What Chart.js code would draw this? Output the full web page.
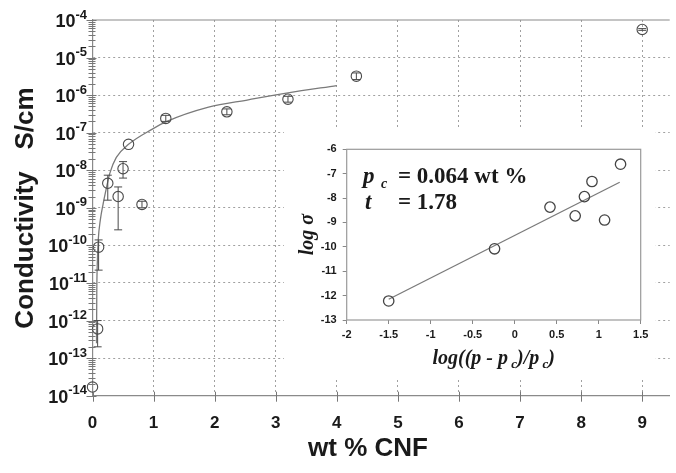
<!DOCTYPE html>
<html>
<head>
<meta charset="utf-8">
<script src="https://cdn.jsdelivr.net/npm/chart.js@4.4.0/dist/chart.umd.min.js"></script>
<style>
  body { margin: 0; background: #fff; }
  #wrap { position: relative; width: 676px; height: 473px; }
  #mainChart { position: absolute; left: 0; top: 0; }
  #insetChart { position: absolute; left: 284px; top: 128px; background: #fff; }
</style>
</head>
<body>
<div id="wrap">
  <canvas id="mainChart" width="676" height="473"></canvas>
  <canvas id="insetChart" width="371" height="250"></canvas>
</div>
<script>
// main plot: conductivity vs filler loading
const wtCNF        = [0, 0.084, 0.1, 0.25, 0.42, 0.5, 0.59, 0.81, 1.2, 2.2, 3.2, 4.32, 9.0];
const conductivity = [1.7e-14, 6e-13, 9e-11, 4.5e-9, 2e-9, 1.1e-8, 4.9e-8, 1.23e-9, 2.4e-7, 3.6e-7, 7.8e-7, 3.2e-6, 5.6e-5];
const errLow       = [null, 2e-13, 2.2e-11, 1.6e-9, 2.6e-10, 6.2e-9, null, 1.0e-9, 2.0e-7, 3.0e-7, 6.5e-7, 2.6e-6, 5.3e-5];
const errHigh      = [null, 1e-12, 1.4e-10, 7.4e-9, 3.6e-9, 1.7e-8, null, 1.5e-9, 2.9e-7, 4.3e-7, 9.3e-7, 3.9e-6, 5.9e-5];

// fitted curve
const fitCurveX = [0.066, 0.07, 0.08, 0.094, 0.13, 0.175, 0.23, 0.283, 0.39, 0.59, 0.98, 1.2, 1.9, 2.55, 3.2, 4.0];
const fitCurveY = [2.5e-13, 5e-12, 4e-11, 1.4e-10, 5e-10, 1.3e-9, 3.5e-9, 8.3e-9, 2.2e-8, 4.9e-8, 1.25e-7, 1.95e-7, 4.8e-7, 7.5e-7, 1.15e-6, 1.8e-6];

const xTicks = [0, 1, 2, 3, 4, 5, 6, 7, 8, 9];
const yDecades = [-14, -13, -12, -11, -10, -9, -8, -7, -6, -5, -4];

// inset: log-log percolation plot
const insetX = [-1.5, -0.24, 0.42, 0.72, 0.83, 0.92, 1.07, 1.26];
const insetY = [-12.22, -10.08, -8.37, -8.73, -7.94, -7.32, -8.9, -6.61];
const insetFitX = [-1.5, 1.25];
const insetFitY = [-12.15, -7.35];

const TEXT = '#1a1a1a';
const SANS = '"Liberation Sans", Arial, sans-serif';
const SERIF = '"Liberation Serif", "Times New Roman", serif';

const mainDecor = {
    id: 'mainDecor',
    afterDatasetsDraw(chart) {
        const { ctx, scales: { x, y } } = chart;
        ctx.save();
        // error bars
        ctx.strokeStyle = '#4a4a4a';
        ctx.lineWidth = 1;
        wtCNF.forEach((v, i) => {
            if (errLow[i] == null) return;
            const px = x.getPixelForValue(v);
            const lo = y.getPixelForValue(errLow[i]);
            const hi = y.getPixelForValue(errHigh[i]);
            ctx.beginPath();
            ctx.moveTo(px, lo); ctx.lineTo(px, hi);
            ctx.moveTo(px - 4, lo); ctx.lineTo(px + 4, lo);
            ctx.moveTo(px - 4, hi); ctx.lineTo(px + 4, hi);
            ctx.stroke();
        });
        ctx.restore();
    },
    afterDraw(chart) {
        const { ctx, chartArea, scales: { x, y } } = chart;
        const x0 = chartArea.left;
        ctx.save();
        // top frame line
        ctx.strokeStyle = '#8a8a8a';
        ctx.lineWidth = 1.2;
        ctx.beginPath();
        ctx.moveTo(x0, chartArea.top);
        ctx.lineTo(chartArea.right, chartArea.top);
        ctx.stroke();

        // ladder ticks on the log axis
        ctx.strokeStyle = '#777';
        ctx.lineWidth = 1;
        ctx.beginPath();
        yDecades.forEach(e => {
            for (let m = 1; m <= 9; m++) {
                if (e === -4 && m > 1) break;
                const py = Math.round(y.getPixelForValue(m * Math.pow(10, e))) + 0.5;
                ctx.moveTo(x0 - (m === 1 ? 6 : 4), py);
                ctx.lineTo(x0 + (m === 1 ? 4 : 3), py);
            }
        });
        // x ticks crossing the axis
        xTicks.forEach(v => {
            const px = Math.round(x.getPixelForValue(v)) + 0.5;
            ctx.moveTo(px, chartArea.bottom - 4);
            ctx.lineTo(px, chartArea.bottom + 6);
        });
        ctx.stroke();

        // y tick labels 10^n
        ctx.fillStyle = TEXT;
        ctx.textBaseline = 'middle';
        yDecades.forEach(e => {
            const py = y.getPixelForValue(Math.pow(10, e));
            ctx.font = 'bold 13px ' + SANS;
            ctx.textAlign = 'right';
            const sup = String(e);
            ctx.fillText(sup, 87, py - 5);
            const w = ctx.measureText(sup).width;
            ctx.font = 'bold 18px ' + SANS;
            ctx.fillText('10', 87 - w, py + 2);
        });

        // axis titles
        ctx.font = 'bold 26px ' + SANS;
        ctx.textAlign = 'center';
        ctx.fillText('wt % CNF', 368, 449);
        ctx.translate(26, 208);
        ctx.rotate(-Math.PI / 2);
        ctx.fillText('Conductivity   S/cm', 0, 0);
        ctx.restore();
    }
};

new Chart(document.getElementById('mainChart'), {
    type: 'scatter',
    data: {
        datasets: [
            {
                type: 'line',
                data: fitCurveX.map((v, i) => ({ x: v, y: fitCurveY[i] })),
                borderColor: '#7a7a7a',
                borderWidth: 1.3,
                pointRadius: 0,
                cubicInterpolationMode: 'monotone',
                fill: false,
                order: 2
            },
            {
                data: wtCNF.map((v, i) => ({ x: v, y: conductivity[i] })),
                pointRadius: 5.2,
                borderColor: '#4a4a4a',
                backgroundColor: 'rgba(0,0,0,0)',
                borderWidth: 1.1,
                clip: false,
                order: 1
            }
        ]
    },
    options: {
        responsive: false,
        animation: false,
        layout: { padding: { top: 20, right: 0, left: 0, bottom: 0 } },
        plugins: { legend: { display: false }, tooltip: { enabled: false } },
        scales: {
            x: {
                type: 'linear',
                min: 0,
                max: 9.45,
                afterBuildTicks: s => { s.ticks = xTicks.map(v => ({ value: v })); },
                afterFit: s => { s.height = 473 - 395.7; },
                ticks: {
                    padding: 17,
                    color: TEXT,
                    font: { family: SANS, size: 17, weight: 'bold' }
                },
                grid: {
                    drawTicks: false,
                    color: ctx => ctx.index === 0 ? 'rgba(0,0,0,0)' : '#a0a0a0'
                },
                border: { color: '#8a8a8a', width: 1.2, dash: [2, 3] }
            },
            y: {
                type: 'logarithmic',
                min: 1e-14,
                max: 1e-4,
                afterBuildTicks: s => { s.ticks = yDecades.map(e => ({ value: Math.pow(10, e) })); },
                afterFit: s => { s.width = 92.5; },
                ticks: { display: false },
                grid: {
                    drawTicks: false,
                    color: ctx => (ctx.index === 0 || ctx.index === yDecades.length - 1) ? 'rgba(0,0,0,0)' : '#a0a0a0'
                },
                border: { color: '#8a8a8a', width: 1.2, dash: [2, 3] }
            }
        }
    },
    plugins: [mainDecor]
});

// draw a run of text pieces, each [text, font, dy]
function drawParts(ctx, parts, x, y) {
    let cx = x;
    parts.forEach(([t, font, dy]) => {
        ctx.font = font;
        ctx.fillText(t, cx, y + dy);
        cx += ctx.measureText(t).width;
    });
}
function partsWidth(ctx, parts) {
    let w = 0;
    parts.forEach(([t, font]) => { ctx.font = font; w += ctx.measureText(t).width; });
    return w;
}

const insetDecor = {
    id: 'insetDecor',
    afterDraw(chart) {
        const { ctx, chartArea } = chart;
        ctx.save();
        ctx.strokeStyle = '#9a9a9a';
        ctx.lineWidth = 1.2;
        ctx.strokeRect(chartArea.left, chartArea.top, chartArea.right - chartArea.left, chartArea.bottom - chartArea.top);

        ctx.fillStyle = TEXT;
        ctx.textAlign = 'left';
        ctx.textBaseline = 'alphabetic';
        const big = 'bold 23px ' + SERIF;
        const bigIt = 'italic bold 23px ' + SERIF;
        const subIt = 'italic bold 14px ' + SERIF;
        drawParts(ctx, [['p', bigIt, 0]], 79, 55);
        drawParts(ctx, [['c', subIt, 0]], 97, 60);
        drawParts(ctx, [['= 0.064 wt %', big, 0]], 114, 55);
        drawParts(ctx, [['t', bigIt, 0]], 81, 81);
        drawParts(ctx, [['= 1.78', big, 0]], 114, 81);

        // x title
        const tf = 'italic bold 20px ' + SERIF;
        const sf = 'italic bold 13px ' + SERIF;
        const xt = [['log((p - p', tf, 0], [' c', sf, 4], [')/p', tf, 0], [' c', sf, 4], [')', tf, 0]];
        const cx = (chartArea.left + chartArea.right) / 2;
        drawParts(ctx, xt, cx - partsWidth(ctx, xt) / 2, 236);

        // y title
        ctx.translate(29, (chartArea.top + chartArea.bottom) / 2);
        ctx.rotate(-Math.PI / 2);
        ctx.font = tf;
        ctx.textAlign = 'center';
        ctx.fillText('log σ', 0, 0);
        ctx.restore();
    }
};

const insetTickFont = { family: SANS, size: 11, weight: 'bold' };

new Chart(document.getElementById('insetChart'), {
    type: 'scatter',
    data: {
        datasets: [
            {
                type: 'line',
                data: insetFitX.map((v, i) => ({ x: v, y: insetFitY[i] })),
                borderColor: '#7a7a7a',
                borderWidth: 1.3,
                pointRadius: 0,
                fill: false,
                order: 2
            },
            {
                data: insetX.map((v, i) => ({ x: v, y: insetY[i] })),
                pointRadius: 5.2,
                borderColor: '#444',
                backgroundColor: 'rgba(0,0,0,0)',
                borderWidth: 1.3,
                clip: false,
                order: 1
            }
        ]
    },
    options: {
        responsive: false,
        animation: false,
        layout: { padding: { top: 21.3, right: 14.3, left: 0, bottom: 0 } },
        plugins: { legend: { display: false }, tooltip: { enabled: false } },
        scales: {
            x: {
                type: 'linear',
                min: -2,
                max: 1.5,
                afterFit: s => { s.height = 58; },
                ticks: { stepSize: 0.5, padding: 4, color: TEXT, font: insetTickFont, callback: v => String(v) },
                grid: { drawOnChartArea: false, tickLength: 4, color: '#888' },
                border: { display: false }
            },
            y: {
                type: 'linear',
                min: -13,
                max: -6,
                afterFit: s => { s.width = 62.7; },
                ticks: { stepSize: 1, padding: 6, color: TEXT, font: insetTickFont, callback: v => String(v) },
                grid: { drawOnChartArea: false, tickLength: 4, color: '#888' },
                border: { display: false }
            }
        }
    },
    plugins: [insetDecor]
});
</script>
</body>
</html>
